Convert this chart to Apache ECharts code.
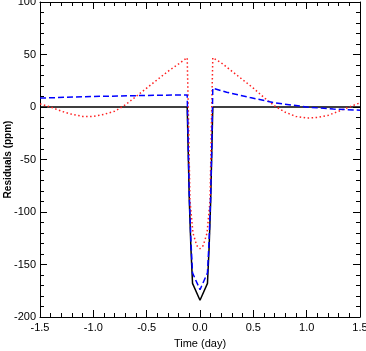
<!DOCTYPE html>
<html>
<head>
<meta charset="utf-8">
<title>Residuals</title>
<script src="https://cdn.jsdelivr.net/npm/echarts@6/dist/echarts.min.js"></script>
<style>
html,body{margin:0;padding:0;background:#fff;}
#chart{width:366px;height:351px;}
</style>
</head>
<body>
<div id="chart"></div>
<script>
// black model (solid)
var blackTime = [-1.5, -0.12, -0.11, -0.1, -0.085, -0.07, 0, 0.07, 0.085, 0.1, 0.11, 0.12, 1.5];
var blackVal  = [0, 0, -45, -90, -135, -168, -184, -168, -135, -90, -45, 0, 0];

// blue (dashed)
var blueTime = [-1.5, -1.0, -0.5, -0.12, -0.11, -0.1, -0.085, -0.07, 0, 0.07, 0.085, 0.1, 0.11, 0.12, 0.25, 0.47, 0.7, 1.0, 1.25, 1.5];
var blueVal  = [8.5, 10, 11, 11.5, -40, -85, -128, -158, -174, -158, -128, -85, -40, 18, 14, 9, 4, 0, -2, -3];

// red (dotted)
var redTime = [-1.5, -1.4, -1.3, -1.2, -1.1, -1.0, -0.9, -0.8, -0.7, -0.6, -0.5, -0.4, -0.3, -0.2, -0.12,
  -0.11, -0.094, -0.066, -0.03, 0, 0.03, 0.066, 0.094, 0.11,
  0.12, 0.2, 0.3, 0.4, 0.5, 0.6, 0.7, 0.8, 0.9, 1.0, 1.1, 1.2, 1.3, 1.4, 1.5];
var redVal  = [3, 0, -4, -7, -9, -9, -7, -4, 2, 10, 18, 26, 34, 41, 47,
  0, -89, -120, -132, -135, -132, -120, -89, 0,
  47, 42, 34, 26, 18, 9, 1, -5, -9, -10.5, -10, -8, -4, 0, 4];

function pairs(t, v){
	var out = [];
	for(var i = 0; i < t.length; i++){ out.push([t[i], v[i]]); }
	return out;
}

var font = 'Liberation Sans';
var axisLine = {show:true, onZero:false, lineStyle:{color:'#000', width:1}};
var tick = {show:true, inside:true, length:7, lineStyle:{color:'#000'}};
var minor = {show:true, splitNumber:5, length:4, lineStyle:{color:'#000'}};

var myChart = echarts.init(document.getElementById('chart'));
var option = {
	animation:false,
	grid:{left:40, right:6, top:2, bottom:34, containLabel:false, outerBoundsMode:'none'},
	xAxis:[{
		type:'value', min:-1.5, max:1.5, interval:0.5,
		axisLine:axisLine, axisTick:tick, minorTick:minor, splitLine:{show:false},
		axisLabel:{color:'#000', fontFamily:font, fontSize:11, margin:5,
			formatter:function(v){ return v.toFixed(1); }},
		name:'Time (day)', nameLocation:'middle', nameGap:21, nameMoveOverlap:false,
		nameTextStyle:{color:'#000', fontFamily:font, fontSize:11}
	},{
		type:'value', position:'top', min:-1.5, max:1.5, interval:0.5,
		axisLine:axisLine, axisTick:tick, minorTick:minor, splitLine:{show:false},
		axisLabel:{show:false}
	}],
	yAxis:[{
		type:'value', min:-200, max:100, interval:50,
		axisLine:axisLine, axisTick:tick, minorTick:minor, splitLine:{show:false},
		axisLabel:{color:'#000', fontFamily:font, fontSize:11, margin:4},
		name:'Residuals (ppm)', nameLocation:'middle', nameGap:27, nameMoveOverlap:false,
		nameTextStyle:{color:'#000', fontFamily:font, fontSize:10, fontWeight:'bold'}
	},{
		type:'value', position:'right', min:-200, max:100, interval:50,
		axisLine:axisLine, axisTick:tick, minorTick:minor, splitLine:{show:false},
		axisLabel:{show:false}
	}],
	series:[{
		type:'line', data:pairs(blackTime, blackVal), showSymbol:false, symbol:'none',
		lineStyle:{color:'#000', width:1.5}
	},{
		type:'line', data:pairs(redTime, redVal), showSymbol:false, symbol:'none',
		lineStyle:{color:'#ff2020', width:1.5, type:[1.5,2.5]}
	},{
		type:'line', data:pairs(blueTime, blueVal), showSymbol:false, symbol:'none',
		lineStyle:{color:'#0000ff', width:1.5, type:[6,3]}
	}]
};
myChart.setOption(option);
</script>
</body>
</html>
